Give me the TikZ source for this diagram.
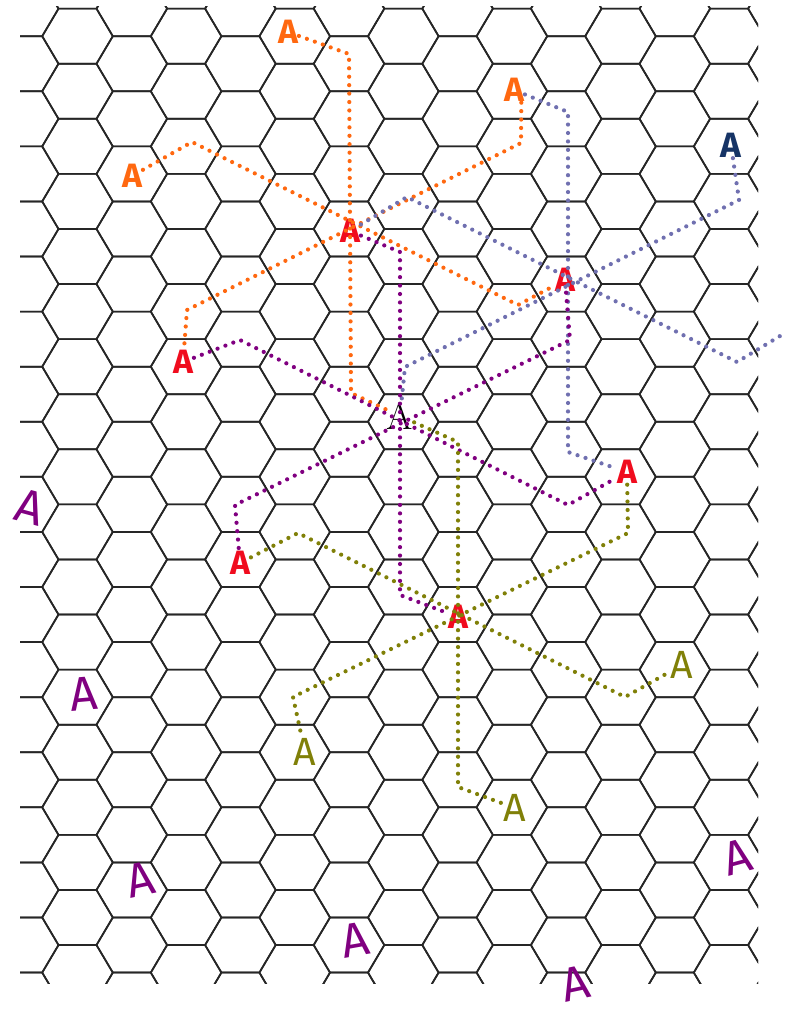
\documentclass[tikz,border=0pt]{standalone}
\usepackage{fontspec}
\newfontfamily\handfont{Fira Sans}
\usetikzlibrary{arrows.meta}

\definecolor{hexorange}{RGB}{255,104,16}
\definecolor{hexred}{RGB}{240,12,30}
\definecolor{hexnavy}{RGB}{22,52,102}
\definecolor{hexpurple}{RGB}{128,0,128}
\definecolor{hexolive}{RGB}{128,128,8}
\definecolor{hexslate}{RGB}{112,112,176}

\begin{document}
\begin{tikzpicture}[
    x=0.025cm, y=-0.025cm,
    hexline/.style={line width=1.2pt, black!85, line join=round},
    handA/.style={font=\handfont\bfseries\fontsize{24}{24}\selectfont, inner sep=0.5pt},
    orgA/.style={handA, text=hexorange},
    redA/.style={handA, text=hexred},
    navyA/.style={handA, text=hexnavy, font=\handfont\bfseries\fontsize{25}{25}\selectfont},
    olvA/.style={handA, text=hexolive, font=\handfont\fontsize{28}{28}\selectfont},
    prpA/.style={handA, text=hexpurple, font=\handfont\fontsize{34}{34}\selectfont},
    ctrA/.style={font=\fontsize{27}{27}\selectfont, inner sep=0.5pt},
    dotpath/.style={line width=3pt, line cap=round, dash pattern=on 0pt off 6pt},
    orgpath/.style={dotpath, hexorange},
    slatepath/.style={dotpath, hexslate},
    prppath/.style={dotpath, hexpurple},
    olvpath/.style={dotpath, hexolive},
]
\useasboundingbox (0,0) rectangle (788,1016);

% ============ Hex grid ============
\begin{scope}
  \clip (20,7) rectangle (758,983);
  \foreach \k in {-1,...,13}{
    \foreach \j in {-1,...,18}{
      \pgfmathsetmacro{\cx}{77.5+54.3*\k}
      \pgfmathsetmacro{\cy}{36.2+55.08*\j+27.54*mod(\k+2,2)}
      \draw[hexline] (\cx-35.3,\cy) -- ++(16.3,-27.54) -- ++(38,0) -- ++(16.3,27.54)
        -- ++(-16.3,27.54) -- ++(-38,0) -- cycle;
    }
  }
\end{scope}

% ============ Units ============
\node[orgA] (o1) at (288,32) {A};
\node[orgA] (o2) at (514,90) {A};
\node[orgA] (o3) at (132,176) {A};
\node[navyA] (n1) at (731,145) {A};

\node[redA] (r1) at (350,231) {A};
\node[redA] (r2) at (183,362) {A};
\node[redA] (r3) at (565,280) {A};
\node[redA] (r4) at (627,472) {A};
\node[redA] (r5) at (240,563) {A};
\node[redA] (r6) at (458,617) {A};

\node[ctrA] (ctr) at (400,416) {A};

\node[olvA] (v1) at (682,665) {A};
\node[olvA] (v2) at (305,752) {A};
\node[olvA] (v3) at (515,808) {A};

\node[prpA, rotate=-15] (p1) at (30,507) {A};
\node[prpA, rotate=5] (p2) at (84,694) {A};
\node[prpA, rotate=12] (p3) at (140,880) {A};
\node[prpA, rotate=10] (p4) at (355,940) {A};
\node[prpA, rotate=12] (p5) at (575,984) {A};
\node[prpA, rotate=15] (p6) at (737,857) {A};

\coordinate (slend) at (785,333);

% ============ Lines ============
% orange
\draw[orgpath] (o1) -- (349,54) -- (351,393) -- (ctr);
\draw[orgpath] (o2.-60) -- (521,143) -- (187,310) -- (r2);
\draw[orgpath] (o3) -- (192,142) -- (518,305) -- (r3);

% slate
\draw[slatepath] (o2) -- (568,112) -- (568,452) -- (r4);
\draw[slatepath] (n1) -- (739,200) -- (405,367) -- (ctr);
\draw[slatepath] (r1) -- (407,197) -- (737,362) -- (slend);

% purple
\draw[prppath] (r1) -- (400,252) -- (400,595) -- (r6);
\draw[prppath] (r2) -- (240,340) -- (568,505) -- (r4);
\draw[prppath] (r3) -- (570,340) -- (235,505) -- (r5);

% olive
\draw[olvpath] (r5) -- (298,533) -- (625,697) -- (v1);
\draw[olvpath] (r4) -- (628,533) -- (293,697) -- (v2);
\draw[olvpath] (ctr) -- (458,442) -- (458,787) -- (v3);

\end{tikzpicture}
\end{document}
